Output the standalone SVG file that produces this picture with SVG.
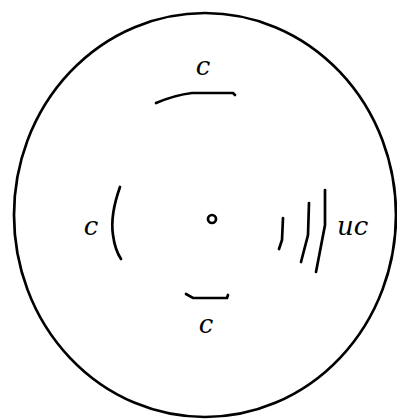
<svg xmlns="http://www.w3.org/2000/svg" width="397" height="419" viewBox="0 0 397 419">
<style>
.s{fill:none;stroke:#000;stroke-width:2.7;stroke-linecap:round}
.t{font-family:"DejaVu Serif","Liberation Serif",serif;font-style:italic;font-size:26px;fill:#000}
</style>
<rect width="397" height="419" fill="#fff"/>
<g id="outer"><ellipse class="s" cx="205" cy="215" rx="191" ry="202"/></g>
<g id="center"><circle class="s" cx="212" cy="219" r="4"/></g>
<g id="connectors">
<path id="top-arc" class="s" d="M156,103 Q175,95 192,93 L233,93 L235,95"/>
<path id="left-arc" class="s" d="M120,187 Q110,215 113,235 Q115,250 121,259"/>
<path id="bottom-arc" class="s" d="M186,294 L193,298 L227,298 L228,295"/>
<path id="r1" class="s" d="M283,218 L282,240 L279,249"/>
<path id="r2" class="s" d="M309,203 L308,235 L301,262"/>
<path id="r3" class="s" d="M325,190 L325,225 L316,272"/>
</g>
<g id="labels">
<text class="t" x="203" y="75" text-anchor="middle">c</text>
<text class="t" x="91" y="235" text-anchor="middle">c</text>
<text class="t" x="206" y="333" text-anchor="middle">c</text>
<text class="t" x="337" y="235">uc</text>
</g>
</svg>
